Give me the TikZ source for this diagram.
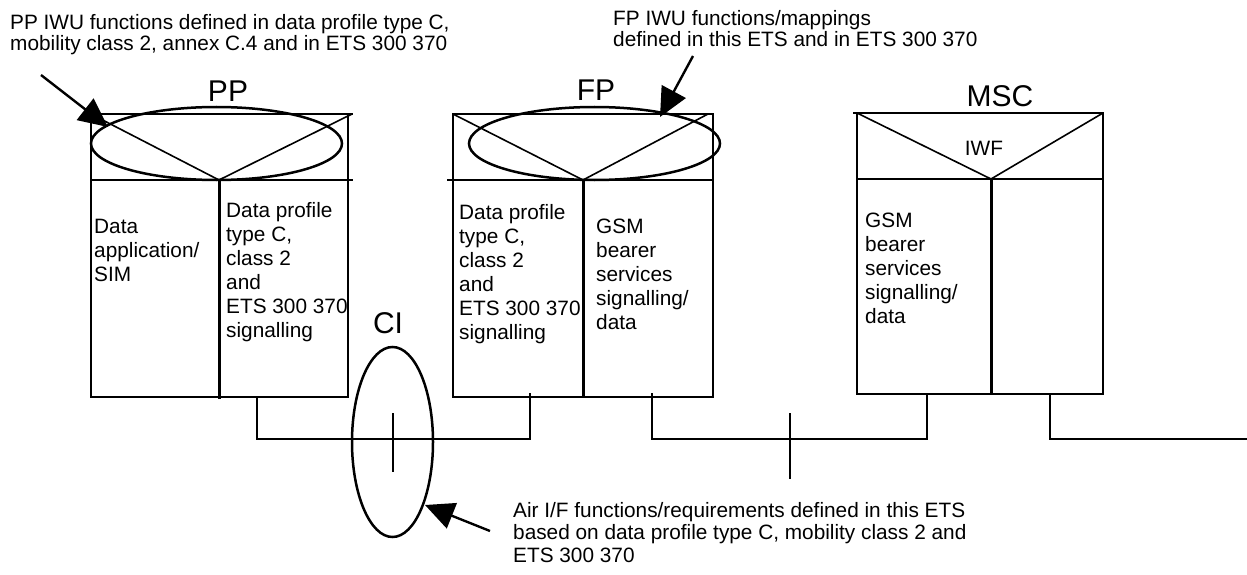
\documentclass[tikz,border=0pt]{standalone}
\usepackage{fontspec}
\setmainfont{Liberation Sans}
\usetikzlibrary{arrows.meta}
\begin{document}
\begin{tikzpicture}[x=1pt,y=-1pt,
  boxline/.style={line width=2.6pt, line cap=rect},
  divline/.style={line width=3pt},
  diagline/.style={line width=1.6pt},
  ringline/.style={line width=2.5pt},
  busline/.style={line width=2.6pt},
  tickline/.style={line width=1.9pt},
  pointer/.style={line width=2.4pt, -{Triangle[length=29pt,width=27pt]}},
  txt/.style={inner sep=0pt, anchor=base west, font=\fontsize{20.8}{24}\selectfont},
  big/.style={inner sep=0pt, anchor=base, font=\fontsize{30}{34}\selectfont}]
\useasboundingbox (0,0) rectangle (1247,575);

% ---------- PP ----------
\coordinate (ppTL) at (91,114);
\coordinate (ppTR) at (348,114);
\coordinate (ppBL) at (91,397);
\coordinate (ppBR) at (348,397);
\coordinate (ppV) at (219,180);
\draw[boxline] (ppTL) -- (352,114);
\draw[boxline] (91,180) -- (352,180);
\draw[boxline] (ppTL) -- (ppBL) -- (ppBR) -- (ppTR);
\draw[divline] (ppV) -- (219,399);
\draw[diagline] (ppTL) -- (ppV) -- (352,114);
\draw[ringline] (216.5,143.5) ellipse [x radius=125.5pt, y radius=36.5pt];
\node[big] (pplabel) at (228,102) {PP};

% ---------- FP ----------
\coordinate (fpTL) at (453,114);
\coordinate (fpTR) at (713,114);
\coordinate (fpBL) at (453,397);
\coordinate (fpBR) at (713,397);
\coordinate (fpV) at (583,180);
\draw[boxline] (fpTL) -- (fpTR);
\draw[boxline] (448,180) -- (713,180);
\draw[boxline] (fpTL) -- (fpBL) -- (fpBR) -- (fpTR);
\draw[divline] (fpV) -- (583,397);
\draw[diagline] (fpTL) -- (fpV) -- (708,114);
\draw[ringline] (594.5,143.5) ellipse [x radius=125.5pt, y radius=36.5pt];
\node[big] (fplabel) at (596,101) {FP};

% ---------- MSC ----------
\coordinate (mscTL) at (857,113);
\coordinate (mscTR) at (1103,113);
\coordinate (mscBL) at (857,394);
\coordinate (mscBR) at (1103,394);
\coordinate (mscV) at (991,179);
\draw[boxline] (854,113) -- (mscTR);
\draw[boxline] (857,179) -- (1103,179);
\draw[boxline] (mscTL) -- (mscBL) -- (mscBR) -- (mscTR);
\draw[divline] (mscV) -- (991,394);
\draw[diagline] (mscTL) -- (mscV) -- (mscTR);
\node[big] (msclabel) at (1000,107) {MSC};
\node[txt, anchor=base] (iwf) at (984,155) {IWF};

% ---------- buses ----------
\coordinate (s1) at (257,397);
\coordinate (s2) at (530,393);
\coordinate (s3) at (652,393);
\coordinate (s4) at (927,393);
\coordinate (s5) at (1050,393);
\coordinate (busend) at (1247,439);
\draw[busline] (s1) -- (257,439) -- (530,439) -- (s2);
\draw[busline] (s3) -- (652,439) -- (927,439) -- (s4);
\draw[busline] (s5) -- (1050,439) -- (busend);
\draw[tickline] (393,413) -- (393,472);
\draw[tickline] (790,413) -- (790,479);
\draw[ringline] (392.5,442) ellipse [x radius=40.5pt, y radius=95pt];
\node[big] (cilabel) at (388,333) {CI};

% ---------- cell texts ----------
\node[txt] (pa1) at (94,233) {Data};
\node[txt] (pa2) at (94,257) {application/};
\node[txt] (pa3) at (94,281) {SIM};

\node[txt] (pb1) at (226,217) {Data profile};
\node[txt] (pb2) at (226,241) {type C,};
\node[txt] (pb3) at (226,265) {class 2};
\node[txt] (pb4) at (226,289) {and};
\node[txt] (pb5) at (226,313) {ETS 300 370};
\node[txt] (pb6) at (226,337) {signalling};

\node[txt] (fa1) at (459,219) {Data profile};
\node[txt] (fa2) at (459,243) {type C,};
\node[txt] (fa3) at (459,267) {class 2};
\node[txt] (fa4) at (459,291) {and};
\node[txt] (fa5) at (459,315) {ETS 300 370};
\node[txt] (fa6) at (459,339) {signalling};

\node[txt] (fb1) at (596,233) {GSM};
\node[txt] (fb2) at (596,257) {bearer};
\node[txt] (fb3) at (596,281) {services};
\node[txt] (fb4) at (596,305) {signalling/};
\node[txt] (fb5) at (596,329) {data};

\node[txt] (ma1) at (865,227) {GSM};
\node[txt] (ma2) at (865,251) {bearer};
\node[txt] (ma3) at (865,275) {services};
\node[txt] (ma4) at (865,299) {signalling/};
\node[txt] (ma5) at (865,323) {data};

% ---------- annotations ----------
\node[txt] (ppn1) at (10,30) {PP IWU functions defined in data profile type C,};
\node[txt] (ppn2) at (10,50.5) {mobility class 2, annex C.4 and in ETS 300 370};

\node[txt] (fpn1) at (613,26) {FP IWU functions/mappings};
\node[txt] (fpn2) at (613,46.7) {defined in this ETS and in ETS 300 370};

\node[txt] (ain1) at (513,517) {Air I/F functions/requirements defined in this ETS};
\node[txt] (ain2) at (513,539.5) {based on data profile type C, mobility class 2 and};
\node[txt] (ain3) at (513,562) {ETS 300 370};

\coordinate (ppArrowTail) at (41,75);
\coordinate (ppArrowTip) at (108,127);
\coordinate (fpArrowTail) at (693,56);
\coordinate (fpArrowTip) at (660,117);
\coordinate (aiArrowTail) at (490,531);
\coordinate (aiArrowTip) at (425,505);
\draw[pointer] (ppArrowTail) -- (ppArrowTip);
\draw[pointer] (fpArrowTail) -- (fpArrowTip);
\draw[pointer] (aiArrowTail) -- (aiArrowTip);
\end{tikzpicture}
\end{document}
